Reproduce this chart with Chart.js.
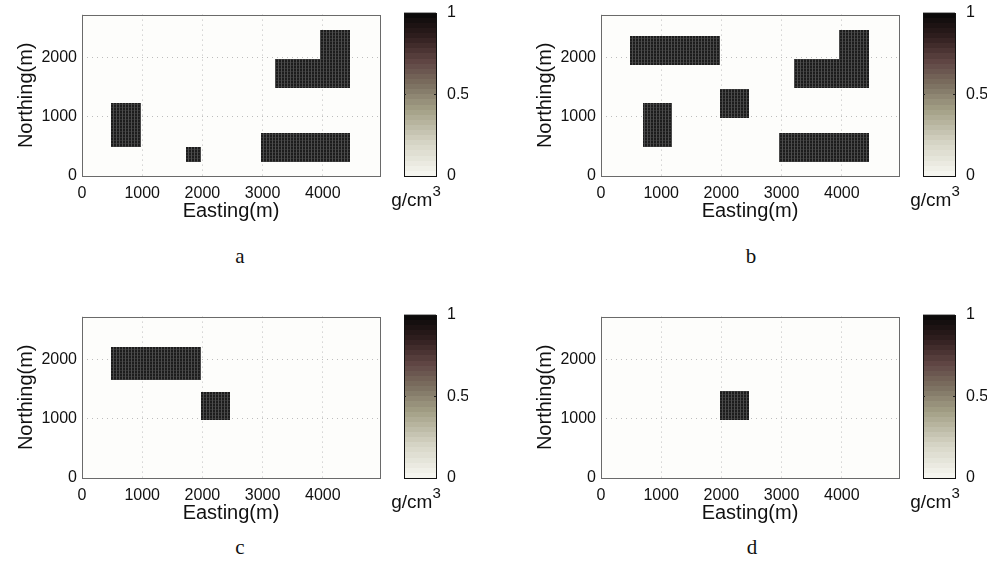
<!DOCTYPE html>
<html>
<head>
<meta charset="utf-8">
<script src="https://cdn.jsdelivr.net/npm/chart.js@4.4.0/dist/chart.umd.min.js"></script>
<style>
body { margin: 0; background: #fff; width: 987px; height: 568px; position: relative; overflow: hidden; }
canvas { position: absolute; }
.lbl { position: absolute; font-family: "Liberation Serif", serif; font-size: 21px; transform: translate(-50%, -50%); color: #111; }
</style>
</head>
<body>
<canvas id="mainA" width="385" height="230" style="left:0px;top:0px"></canvas>
<canvas id="barA" width="78" height="230" style="left:390px;top:0px"></canvas>
<canvas id="mainB" width="385" height="230" style="left:519px;top:0px"></canvas>
<canvas id="barB" width="78" height="230" style="left:909px;top:0px"></canvas>
<canvas id="mainC" width="385" height="230" style="left:0px;top:302px"></canvas>
<canvas id="barC" width="78" height="230" style="left:390px;top:302px"></canvas>
<canvas id="mainD" width="385" height="230" style="left:519px;top:302px"></canvas>
<canvas id="barD" width="78" height="230" style="left:909px;top:302px"></canvas>
<div class="lbl" style="left:240px;top:256px">a</div>
<div class="lbl" style="left:751px;top:256px">b</div>
<div class="lbl" style="left:240px;top:547px">c</div>
<div class="lbl" style="left:752px;top:547px">d</div>
<script>
// axes
const xTicks = [0, 1000, 2000, 3000, 4000];
const yTicks = [0, 1000, 2000];
const cbTicks = [0, 0.5, 1];
const xMax = 4950;
const yMax = 2730;

// density blocks: [x0, x1, y0, y1, rho]  (m, m, m, m, g/cm3)
const blocksA = [
    [490, 985, 490, 1230, 1],
    [1725, 1980, 230, 490, 1],
    [2970, 4450, 230, 730, 1],
    [3210, 4450, 1485, 1980, 1],
    [3950, 4450, 1980, 2475, 1]
];
const blocksB = [
    [490, 1980, 1885, 2370, 1],
    [1980, 2465, 985, 1475, 1],
    [690, 1180, 490, 1230, 1],
    [3210, 4450, 1485, 1980, 1],
    [3950, 4450, 1980, 2475, 1],
    [2965, 4450, 230, 730, 1]
];
const blocksC = [
    [485, 1970, 1660, 2210, 1],
    [1970, 2455, 975, 1460, 1]
];
const blocksD = [
    [1980, 2465, 985, 1475, 1]
];

const sans = '"Liberation Sans", Arial, sans-serif';

// colormap (white -> olive grey -> brown -> black)
const cmapStops = [
    [0.0, [248, 248, 243]],
    [0.2, [214, 213, 198]],
    [0.4, [165, 162, 136]],
    [0.55, [125, 114, 98]],
    [0.7, [96, 70, 68]],
    [0.85, [48, 30, 30]],
    [1.0, [8, 8, 8]]
];
function cmap(t) {
    for (var i = 1; i < cmapStops.length; i++) {
        if (t <= cmapStops[i][0]) {
            var a = cmapStops[i - 1], b = cmapStops[i];
            var f = (t - a[0]) / (b[0] - a[0]);
            var c = a[1].map(function (v, k) { return Math.round(v + (b[1][k] - v) * f); });
            return 'rgb(' + c.join(',') + ')';
        }
    }
    return 'rgb(8,8,8)';
}

function texture(ctx, rho) {
    var p = document.createElement('canvas');
    p.width = 3; p.height = 3;
    var g = p.getContext('2d');
    g.fillStyle = '#1c1c1c';
    g.fillRect(0, 0, 3, 3);
    g.fillStyle = '#4c4c4c';
    g.fillRect(2, 0, 1, 3);
    g.fillStyle = '#333';
    g.fillRect(0, 2, 2, 1);
    return ctx.createPattern(p, 'repeat');
}

function plain(v) { return String(v); }

const frame = {
    id: 'frame',
    beforeDraw(chart, args, opts) {
        if (!opts.bg) return;
        const a = chart.chartArea, ctx = chart.ctx;
        ctx.save();
        ctx.fillStyle = opts.bg;
        ctx.fillRect(a.left, a.top, a.right - a.left, a.bottom - a.top);
        ctx.restore();
    },
    beforeDatasetsDraw(chart, args, opts) {
        if (!opts.blocks) return;
        const ctx = chart.ctx, x = chart.scales.x, y = chart.scales.y;
        ctx.save();
        opts.blocks.forEach(function (b) {
            const x0 = Math.round(x.getPixelForValue(b[0]));
            const x1 = Math.round(x.getPixelForValue(b[1]));
            const y0 = Math.round(y.getPixelForValue(b[2]));
            const y1 = Math.round(y.getPixelForValue(b[3]));
            ctx.fillStyle = texture(ctx, b[4]);
            ctx.fillRect(x0, y1, x1 - x0, y0 - y1);
        });
        ctx.restore();
    },
    afterDraw(chart, args, opts) {
        const a = chart.chartArea, ctx = chart.ctx;
        ctx.save();
        ctx.strokeStyle = opts.edge || '#666';
        ctx.lineWidth = 1;
        ctx.strokeRect(Math.round(a.left) + 0.5, Math.round(a.top) + 0.5,
            Math.round(a.right - a.left), Math.round(a.bottom - a.top));
        if (opts.marks) {
            const y = chart.scales.y;
            ctx.strokeStyle = '#222';
            opts.marks.forEach(function (v) {
                const py = Math.round(y.getPixelForValue(v)) + 0.5;
                ctx.beginPath();
                ctx.moveTo(a.left, py); ctx.lineTo(a.left + 2, py);
                ctx.moveTo(a.right - 2, py); ctx.lineTo(a.right, py);
                ctx.stroke();
            });
        }
        if (opts.unit) {
            // unit label under the colour bar, with a raised exponent
            const cx = (a.left + a.right) / 2 - 4;
            ctx.fillStyle = '#111';
            ctx.textBaseline = 'alphabetic';
            ctx.font = '19px ' + sans;
            const w1 = ctx.measureText(opts.unit[0]).width;
            ctx.font = '15px ' + sans;
            const w2 = ctx.measureText(opts.unit[1]).width;
            const x0 = cx - (w1 + w2) / 2;
            ctx.font = '19px ' + sans;
            ctx.textAlign = 'left';
            ctx.fillText(opts.unit[0], x0, a.bottom + 30);
            ctx.font = '15px ' + sans;
            ctx.fillText(opts.unit[1], x0 + w1, a.bottom + 20);
        }
        ctx.restore();
    }
};

function makeMain(id, blocks) {
    return new Chart(id, {
        type: 'scatter',
        data: { datasets: [] },
        options: {
            responsive: false,
            animation: false,
            layout: { padding: { left: 14, right: 5, top: 12, bottom: 0 } },
            plugins: {
                legend: { display: false },
                tooltip: { enabled: false },
                frame: { bg: '#fdfdfb', blocks: blocks, edge: '#6a6a6a' }
            },
            scales: {
                x: {
                    type: 'linear', min: 0, max: xMax,
                    afterBuildTicks: function (s) { s.ticks = xTicks.map(function (v) { return { value: v }; }); },
                    afterFit: function (s) { s.height = 54; },
                    grid: { color: '#bdbdbd', drawTicks: false },
                    border: { display: false, dash: [1, 4] },
                    ticks: { padding: 8, color: '#111', font: { family: sans, size: 16 }, callback: plain },
                    title: { display: true, text: 'Easting(m)', color: '#111', font: { family: sans, size: 20 }, padding: { top: 0, bottom: 7 } }
                },
                y: {
                    type: 'linear', min: 0, max: yMax,
                    afterBuildTicks: function (s) { s.ticks = yTicks.map(function (v) { return { value: v }; }); },
                    afterFit: function (s) { s.width = 68; },
                    grid: { color: '#bdbdbd', drawTicks: false },
                    border: { display: false, dash: [1, 4] },
                    ticks: { padding: 5, color: '#111', font: { family: sans, size: 16 }, callback: plain },
                    title: { display: true, text: 'Northing(m)', color: '#111', font: { family: sans, size: 20 }, padding: { top: 0, bottom: 0 } }
                }
            }
        },
        plugins: [frame]
    });
}

function barFill(ctx) {
    const chart = ctx.chart, a = chart.chartArea;
    if (!a) return '#888';
    const g = chart.ctx.createLinearGradient(0, a.bottom, 0, a.top);
    const n = 32;
    for (var i = 0; i < n; i++) {
        const c = cmap((i + 0.5) / n);
        g.addColorStop(i / n, c);
        g.addColorStop((i + 1) / n - 0.0001, c);
    }
    return g;
}

function makeBar(id) {
    return new Chart(id, {
        type: 'bar',
        data: {
            labels: [''],
            datasets: [{ data: [[0, 1]], backgroundColor: barFill, borderWidth: 0, barPercentage: 1, categoryPercentage: 1 }]
        },
        options: {
            responsive: false,
            animation: false,
            layout: { padding: { left: 14, right: 0, top: 12, bottom: 0 } },
            plugins: {
                legend: { display: false },
                tooltip: { enabled: false },
                frame: { edge: '#111', marks: [0.5], unit: ['g/cm', '3'] }
            },
            scales: {
                x: {
                    grid: { display: false },
                    border: { display: false },
                    ticks: { display: false },
                    afterFit: function (s) { s.height = 54; }
                },
                y: {
                    position: 'right', min: 0, max: 1,
                    afterBuildTicks: function (s) { s.ticks = cbTicks.map(function (v) { return { value: v }; }); },
                    afterFit: function (s) { s.width = 32; },
                    grid: { display: false },
                    border: { display: false },
                    ticks: { padding: 3, color: '#111', font: { family: sans, size: 16 }, callback: plain }
                }
            }
        },
        plugins: [frame]
    });
}

makeMain('mainA', blocksA); makeBar('barA');
makeMain('mainB', blocksB); makeBar('barB');
makeMain('mainC', blocksC); makeBar('barC');
makeMain('mainD', blocksD); makeBar('barD');
</script>
</body>
</html>
